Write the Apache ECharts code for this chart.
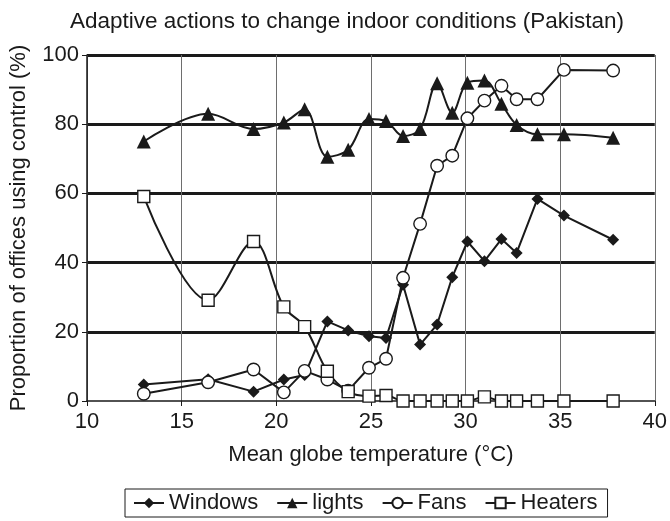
<!DOCTYPE html>
<html>
<head>
<meta charset="utf-8">
<title>Adaptive actions to change indoor conditions (Pakistan)</title>
<script src="https://cdn.jsdelivr.net/npm/echarts@6/dist/echarts.min.js"></script>
<style>
  html, body { margin: 0; padding: 0; background: #fff; }
  #chart { width: 670px; height: 521px; }
</style>
</head>
<body>
<div id="chart"></div>
<script>
// Mean globe temperature (°C) of each survey bin
const temps = [13.0, 16.4, 18.8, 20.4, 21.5, 22.7, 23.8, 24.9, 25.8, 26.7, 27.6, 28.5, 29.3, 30.1, 31.0, 31.9, 32.7, 33.8, 35.2, 37.8];

// Proportion of offices using each control (%)
const windows = [4.8, 6.3, 2.7, 6.2, 7.5, 23.0, 20.4, 18.7, 18.2, 33.6, 16.3, 22.1, 35.8, 46.1, 40.4, 46.8, 42.8, 58.4, 53.6, 46.6];
const lights  = [75.0, 83.0, 78.6, 80.5, 84.3, 70.6, 72.6, 81.5, 80.9, 76.6, 78.6, 91.8, 83.3, 92.0, 92.6, 85.9, 79.8, 77.1, 77.1, 76.1];
const fans    = [2.1, 5.4, 9.1, 2.5, 8.7, 6.2, 3.0, 9.6, 12.2, 35.6, 51.2, 68.0, 70.9, 81.7, 86.8, 91.1, 87.2, 87.2, 95.7, 95.5];
const heaters = [59.1, 29.1, 46.1, 27.2, 21.5, 8.6, 2.7, 1.4, 1.6, 0, 0, 0, 0, 0, 1.2, 0, 0, 0, 0, 0];

const seriesNames = ['Windows', 'lights', 'Fans', 'Heaters'];

const FONT = 'Liberation Sans, Arial, Helvetica, sans-serif';
const INK = '#1a1a1a';

function pairs(values) {
  return temps.map((t, i) => [t, values[i]]);
}

function lineSeries(name, values, symbol, size, filled, smooth) {
  return {
    name: name,
    type: 'line',
    data: pairs(values),
    smooth: smooth ? 0.35 : false,
    symbol: symbol,
    symbolSize: size,
    showAllSymbol: true,
    lineStyle: { color: INK, width: 2 },
    itemStyle: {
      color: filled ? INK : '#ffffff',
      borderColor: INK,
      borderWidth: filled ? 0 : 1.4
    },
    emphasis: { disabled: true },
    animation: false
  };
}

const chart = echarts.init(document.getElementById('chart'), null, { renderer: 'canvas' });

chart.setOption({
  backgroundColor: '#ffffff',
  textStyle: { fontFamily: FONT, color: INK },
  title: {
    text: 'Adaptive actions to change indoor conditions (Pakistan)',
    left: 342,
    textAlign: 'center',
    top: 5,
    textStyle: { fontFamily: FONT, fontSize: 22.5, fontWeight: 'normal', color: INK }
  },
  grid: { left: 85, right: 10, top: 55, bottom: 120, containLabel: false },
  xAxis: {
    type: 'value',
    min: 10,
    max: 40,
    interval: 5,
    name: 'Mean globe temperature (°C)',
    nameLocation: 'middle',
    nameGap: 43,
    nameTextStyle: { fontFamily: FONT, fontSize: 22, color: INK },
    axisLine: { show: true, lineStyle: { color: INK, width: 1.5 } },
    axisTick: { show: true, inside: false, length: 5, lineStyle: { color: INK, width: 1 } },
    axisLabel: { fontFamily: FONT, fontSize: 22, color: INK, margin: 10 },
    splitLine: { show: true, lineStyle: { color: '#6e6e6e', width: 1 } }
  },
  yAxis: {
    type: 'value',
    min: 0,
    max: 100,
    interval: 20,
    name: 'Proportion of offices using control (%)',
    nameLocation: 'middle',
    nameGap: 57,
    nameTextStyle: { fontFamily: FONT, fontSize: 22, color: INK },
    axisLine: { show: true, lineStyle: { color: INK, width: 1.5 } },
    axisTick: { show: true, inside: false, length: 5, lineStyle: { color: INK, width: 1 } },
    axisLabel: { fontFamily: FONT, fontSize: 22, color: INK, margin: 8 },
    splitLine: {
      show: true,
      lineStyle: {
        // no heavy rule on the baseline, heavy rules at 20..100
        color: ['rgba(0,0,0,0)', INK, INK, INK, INK, INK],
        width: 3
      }
    }
  },
  legend: {
    data: seriesNames,
    bottom: 4,
    left: 125,
    orient: 'horizontal',
    borderColor: INK,
    borderWidth: 1,
    borderRadius: 0,
    padding: [3, 10, 3, 8],
    itemGap: 18,
    itemWidth: 30,
    itemHeight: 13,
    selectedMode: false,
    textStyle: { fontFamily: FONT, fontSize: 22, color: INK, padding: [0, 0, 0, 0] }
  },
  series: [
    lineSeries(seriesNames[0], windows, 'diamond', 12, true, false),
    lineSeries(seriesNames[1], lights, 'triangle', 14, true, true),
    lineSeries(seriesNames[2], fans, 'circle', 12.5, false, false),
    lineSeries(seriesNames[3], heaters, 'rect', 12, false, true)
  ]
});
</script>
</body>
</html>
